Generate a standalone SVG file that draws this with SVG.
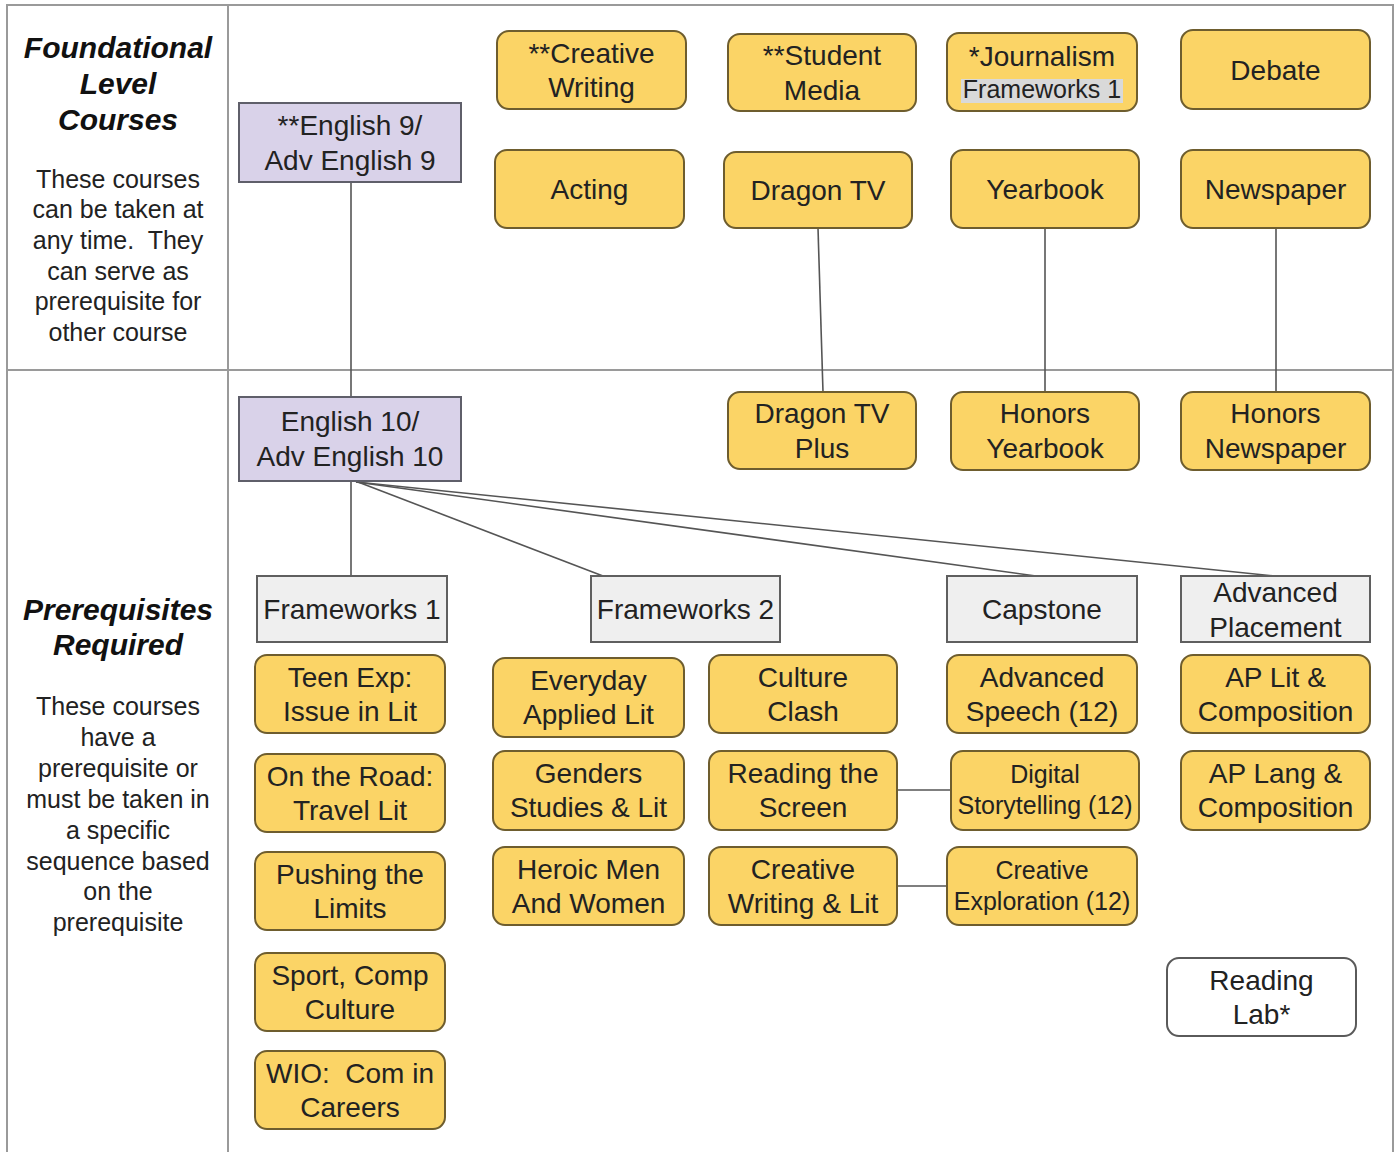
<svg xmlns="http://www.w3.org/2000/svg" width="1396" height="1152" viewBox="0 0 1396 1152">
<style>
.tbl{stroke:#9a9a9a;stroke-width:2;fill:none}
.y{fill:#fbd466;stroke:#6e5d2e;stroke-width:2}
.p{fill:#d9d2e9;stroke:#5f5f6a;stroke-width:2}
.g{fill:#efefef;stroke:#5f5f5f;stroke-width:2}
.w{fill:#ffffff;stroke:#5a5a5a;stroke-width:2}
.t{font-family:"Liberation Sans",Arial,sans-serif;font-size:28px;text-anchor:middle;fill:#222}
.s{font-size:25px}
.h{font-family:"Liberation Sans",Arial,sans-serif;font-size:30px;font-weight:bold;font-style:italic;text-anchor:middle;fill:#111}
.d{font-family:"Liberation Sans",Arial,sans-serif;font-size:25px;text-anchor:middle;fill:#222}
.c{stroke:#555;stroke-width:1.6;fill:none}
</style>
<rect width="1396" height="1152" fill="#fff"/>
<g id="table">
<path class="tbl" d="M7 1152V5H1393V1152M228 5V1152M7 370H1393"/>
</g>
<g id="label-foundational">
<text class="h" x="118" y="58">Foundational</text>
<text class="h" x="118" y="94">Level</text>
<text class="h" x="118" y="130">Courses</text>
<text class="d" x="118" y="188">These courses</text>
<text class="d" x="118" y="218">can be taken at</text>
<text class="d" x="118" y="249" xml:space="preserve">any time.  They</text>
<text class="d" x="118" y="280">can serve as</text>
<text class="d" x="118" y="310">prerequisite for</text>
<text class="d" x="118" y="341">other course</text>
</g>
<g id="label-prereq">
<text class="h" x="118" y="620">Prerequisites</text>
<text class="h" x="118" y="655">Required</text>
<text class="d" x="118" y="715">These courses</text>
<text class="d" x="118" y="746">have a</text>
<text class="d" x="118" y="777">prerequisite or</text>
<text class="d" x="118" y="808">must be taken in</text>
<text class="d" x="118" y="839">a specific</text>
<text class="d" x="118" y="870">sequence based</text>
<text class="d" x="118" y="900">on the</text>
<text class="d" x="118" y="931">prerequisite</text>
</g>
<g id="connectors">
<path class="c" d="M351 182V397"/>
<path class="c" d="M818 228L823 392"/>
<path class="c" d="M1045 228V392"/>
<path class="c" d="M1276 228V392"/>
<path class="c" d="M351 481V576"/>
<path class="c" d="M358 482L603 576"/>
<path class="c" d="M356 482L1036 576"/>
<path class="c" d="M356 482L1275 576"/>
<path class="c" d="M897 790H951"/>
<path class="c" d="M897 886H947"/>
</g>
<g id="english9"><rect class="p" x="239" y="103" width="222" height="79"/><text class="t" x="350" y="135">**English 9/</text><text class="t" x="350" y="170">Adv English 9</text></g>
<g id="english10"><rect class="p" x="239" y="397" width="222" height="84"/><text class="t" x="350" y="431">English 10/</text><text class="t" x="350" y="466">Adv English 10</text></g>
<g id="creative-writing"><rect class="y" x="497" y="31" width="189" height="78" rx="12"/><text class="t" x="591.5" y="63">**Creative</text><text class="t" x="591.5" y="97">Writing</text></g>
<g id="student-media"><rect class="y" x="728" y="34" width="188" height="77" rx="12"/><text class="t" x="822" y="65">**Student</text><text class="t" x="822" y="100">Media</text></g>
<g id="journalism"><rect class="y" x="947" y="33" width="190" height="78" rx="12"/><rect x="961" y="79" width="162" height="24" fill="#d9d9d9"/><text class="t" x="1042" y="66">*Journalism</text><text class="t s" x="1042" y="98">Frameworks 1</text></g>
<g id="debate"><rect class="y" x="1181" y="30" width="189" height="79" rx="12"/><text class="t" x="1275.5" y="80">Debate</text></g>
<g id="acting"><rect class="y" x="495" y="150" width="189" height="78" rx="12"/><text class="t" x="589.5" y="199">Acting</text></g>
<g id="dragon-tv"><rect class="y" x="724" y="152" width="188" height="76" rx="12"/><text class="t" x="818" y="200">Dragon TV</text></g>
<g id="yearbook"><rect class="y" x="951" y="150" width="188" height="78" rx="12"/><text class="t" x="1045" y="199">Yearbook</text></g>
<g id="newspaper"><rect class="y" x="1181" y="150" width="189" height="78" rx="12"/><text class="t" x="1275.5" y="199">Newspaper</text></g>
<g id="dragon-tv-plus"><rect class="y" x="728" y="392" width="188" height="77" rx="12"/><text class="t" x="822" y="423">Dragon TV</text><text class="t" x="822" y="458">Plus</text></g>
<g id="honors-yearbook"><rect class="y" x="951" y="392" width="188" height="78" rx="12"/><text class="t" x="1045" y="423">Honors</text><text class="t" x="1045" y="458">Yearbook</text></g>
<g id="honors-newspaper"><rect class="y" x="1181" y="392" width="189" height="78" rx="12"/><text class="t" x="1275.5" y="423">Honors</text><text class="t" x="1275.5" y="458">Newspaper</text></g>
<g id="frameworks1"><rect class="g" x="257" y="576" width="190" height="66"/><text class="t" x="352" y="619">Frameworks 1</text></g>
<g id="frameworks2"><rect class="g" x="591" y="576" width="189" height="66"/><text class="t" x="685.5" y="619">Frameworks 2</text></g>
<g id="capstone"><rect class="g" x="947" y="576" width="190" height="66"/><text class="t" x="1042" y="619">Capstone</text></g>
<g id="advanced-placement"><rect class="g" x="1181" y="576" width="189" height="66"/><text class="t" x="1275.5" y="602">Advanced</text><text class="t" x="1275.5" y="637">Placement</text></g>
<g id="teen-exp"><rect class="y" x="255" y="655" width="190" height="78" rx="12"/><text class="t" x="350" y="687">Teen Exp:</text><text class="t" x="350" y="721">Issue in Lit</text></g>
<g id="on-the-road"><rect class="y" x="255" y="754" width="190" height="78" rx="12"/><text class="t" x="350" y="786">On the Road:</text><text class="t" x="350" y="820">Travel Lit</text></g>
<g id="pushing"><rect class="y" x="255" y="852" width="190" height="78" rx="12"/><text class="t" x="350" y="884">Pushing the</text><text class="t" x="350" y="918">Limits</text></g>
<g id="sport"><rect class="y" x="255" y="953" width="190" height="78" rx="12"/><text class="t" x="350" y="985">Sport, Comp</text><text class="t" x="350" y="1019">Culture</text></g>
<g id="wio"><rect class="y" x="255" y="1051" width="190" height="78" rx="12"/><text class="t" x="350" y="1083" xml:space="preserve">WIO:  Com in</text><text class="t" x="350" y="1117">Careers</text></g>
<g id="everyday"><rect class="y" x="493" y="658" width="191" height="79" rx="12"/><text class="t" x="588.5" y="690">Everyday</text><text class="t" x="588.5" y="724">Applied Lit</text></g>
<g id="culture-clash"><rect class="y" x="709" y="655" width="188" height="78" rx="12"/><text class="t" x="803" y="687">Culture</text><text class="t" x="803" y="721">Clash</text></g>
<g id="genders"><rect class="y" x="493" y="751" width="191" height="79" rx="12"/><text class="t" x="588.5" y="783">Genders</text><text class="t" x="588.5" y="817">Studies &amp; Lit</text></g>
<g id="reading-screen"><rect class="y" x="709" y="751" width="188" height="79" rx="12"/><text class="t" x="803" y="783">Reading the</text><text class="t" x="803" y="817">Screen</text></g>
<g id="heroic"><rect class="y" x="493" y="847" width="191" height="78" rx="12"/><text class="t" x="588.5" y="879">Heroic Men</text><text class="t" x="588.5" y="913">And Women</text></g>
<g id="cw-lit"><rect class="y" x="709" y="847" width="188" height="78" rx="12"/><text class="t" x="803" y="879">Creative</text><text class="t" x="803" y="913">Writing &amp; Lit</text></g>
<g id="adv-speech"><rect class="y" x="947" y="655" width="190" height="78" rx="12"/><text class="t" x="1042" y="687">Advanced</text><text class="t" x="1042" y="721">Speech (12)</text></g>
<g id="digital"><rect class="y" x="951" y="751" width="188" height="79" rx="12"/><text class="t s" x="1045" y="783">Digital</text><text class="t s" x="1045" y="814">Storytelling (12)</text></g>
<g id="creative-expl"><rect class="y" x="947" y="847" width="190" height="78" rx="12"/><text class="t s" x="1042" y="879">Creative</text><text class="t s" x="1042" y="910">Exploration (12)</text></g>
<g id="ap-lit"><rect class="y" x="1181" y="655" width="189" height="78" rx="12"/><text class="t" x="1275.5" y="687">AP Lit &amp;</text><text class="t" x="1275.5" y="721">Composition</text></g>
<g id="ap-lang"><rect class="y" x="1181" y="751" width="189" height="79" rx="12"/><text class="t" x="1275.5" y="783">AP Lang &amp;</text><text class="t" x="1275.5" y="817">Composition</text></g>
<g id="reading-lab"><rect class="w" x="1167" y="958" width="189" height="78" rx="12"/><text class="t" x="1261.5" y="990">Reading</text><text class="t" x="1261.5" y="1024">Lab*</text></g>
</svg>
